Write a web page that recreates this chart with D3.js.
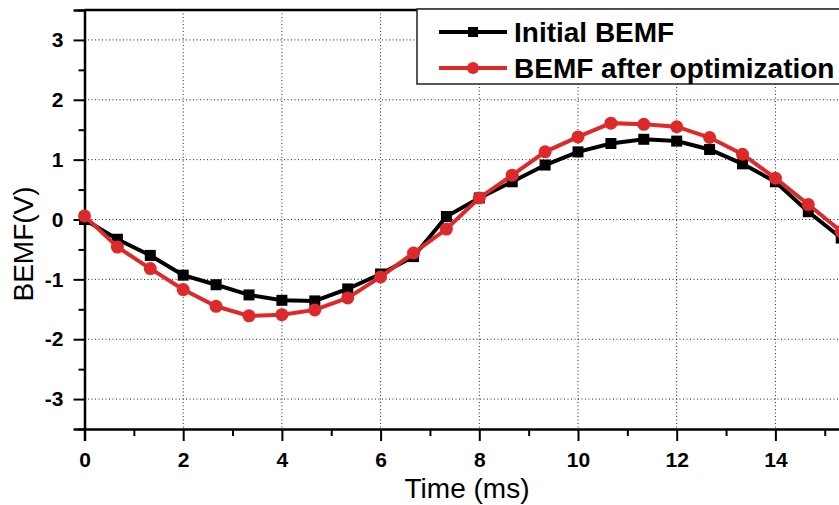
<!DOCTYPE html>
<html>
<head>
<meta charset="utf-8">
<script src="https://cdn.jsdelivr.net/npm/d3@7"></script>
<style>
  body { margin: 0; background: #fff; }
  svg { display: block; font-family: Arial, "Liberation Sans", sans-serif; }
</style>
</head>
<body>
<div id="chart"></div>
<script>
// time samples (ms), one every 2/3 ms
const times = d3.range(0, 24).map(i => i * 2 / 3);
const initialBemf = [0, -0.33, -0.6, -0.93, -1.09, -1.26, -1.35, -1.36, -1.16, -0.91, -0.62, 0.05,
  0.36, 0.63, 0.91, 1.13, 1.27, 1.34, 1.31, 1.17, 0.93, 0.63, 0.13, -0.31];
const optimizedBemf = [0.06, -0.46, -0.82, -1.17, -1.45, -1.61, -1.59, -1.51, -1.31, -0.96, -0.56, -0.16,
  0.36, 0.74, 1.13, 1.38, 1.61, 1.59, 1.55, 1.37, 1.09, 0.69, 0.25, -0.2];
const xTicks = [0, 2, 4, 6, 8, 10, 12, 14];
const yTicks = [-3, -2, -1, 0, 1, 2, 3];
const seriesNames = ["Initial BEMF", "BEMF after optimization"];

const width = 839, height = 505;
const margin = { t: 10, l: 84.5, b: 429 };
const red = '#dc2a2b';

const svg = d3.select('#chart').append('svg')
  .attr('width', width)
  .attr('height', height);

// x domain runs past the right edge (chart is cropped there)
const scaleX = d3.scaleLinear().domain([0, 16]).range([margin.l, margin.l + 16 * 49.35]);
const scaleY = d3.scaleLinear().domain([-3.5, 3.5]).range([margin.b, margin.t]);

//Grid
const grid = svg.append('g').attr('class', 'grid');
grid.selectAll('.gx')
  .data(xTicks.filter(d => d > 0))
  .enter().append('line')
  .attr('x1', d => scaleX(d)).attr('x2', d => scaleX(d))
  .attr('y1', margin.t).attr('y2', margin.b)
  .style('stroke', '#222').style('stroke-width', 1).style('stroke-dasharray', '1 2.5');
grid.selectAll('.gy')
  .data(yTicks)
  .enter().append('line')
  .attr('x1', margin.l).attr('x2', width)
  .attr('y1', d => scaleY(d)).attr('y2', d => scaleY(d))
  .style('stroke', '#222').style('stroke-width', 1).style('stroke-dasharray', '1 2.5');

//Axes
const fmt = d => String(d);
const axisX = d3.axisBottom(scaleX).tickValues(xTicks).tickSize(12).tickPadding(11).tickFormat(fmt);
const axisXMinor = d3.axisBottom(scaleX).tickValues(d3.range(1, 16, 2)).tickSize(7).tickFormat('');
const axisY = d3.axisLeft(scaleY).tickValues(yTicks).tickSize(11).tickPadding(10).tickFormat(fmt);
const axisYMinor = d3.axisLeft(scaleY).tickValues(d3.range(-3.5, 3.6, 1)).tickSize(6).tickFormat('');

svg.append('g').attr('transform', `translate(0,${margin.b})`).call(axisX);
svg.append('g').attr('transform', `translate(0,${margin.b})`).call(axisXMinor).select('.domain').remove();
svg.append('g').attr('transform', `translate(${margin.l},0)`).call(axisY);
svg.append('g').attr('transform', `translate(${margin.l},0)`).call(axisYMinor).select('.domain').remove();

svg.selectAll('.tick line').style('stroke', '#000').style('stroke-width', 2);
svg.selectAll('.domain').style('stroke', '#000').style('stroke-width', 2.5);
svg.selectAll('.tick text')
  .style('font-size', '21px').style('font-weight', 'bold').style('fill', '#000');

// top frame line
svg.append('line')
  .attr('x1', margin.l).attr('x2', width)
  .attr('y1', margin.t).attr('y2', margin.t)
  .style('stroke', '#000').style('stroke-width', 2.5);

//Axis titles
svg.append('text')
  .attr('x', 467).attr('y', 498)
  .attr('text-anchor', 'middle')
  .style('font-size', '28px')
  .text('Time (ms)');
svg.append('text')
  .attr('transform', 'translate(33,244) rotate(-90)')
  .attr('text-anchor', 'middle')
  .style('font-size', '28px')
  .text('BEMF(V)');

//Lines
const line = d3.line().x((d, i) => scaleX(times[i])).y(d => scaleY(d));
const plot = svg.append('g').attr('class', 'plot');

plot.append('path').datum(initialBemf)
  .attr('d', line)
  .style('fill', 'none').style('stroke', '#000').style('stroke-width', 4);
plot.selectAll('.sq')
  .data(initialBemf)
  .enter().append('rect')
  .attr('class', 'sq')
  .attr('x', (d, i) => scaleX(times[i]) - 5.5)
  .attr('y', d => scaleY(d) - 5.5)
  .attr('width', 11).attr('height', 11)
  .style('fill', '#000');

plot.append('path').datum(optimizedBemf)
  .attr('d', line)
  .style('fill', 'none').style('stroke', red).style('stroke-width', 4);
plot.selectAll('.dot')
  .data(optimizedBemf)
  .enter().append('circle')
  .attr('class', 'dot')
  .attr('cx', (d, i) => scaleX(times[i]))
  .attr('cy', d => scaleY(d))
  .attr('r', 6.5)
  .style('fill', red);

//Legend
const legend = svg.append('g').attr('class', 'legend');
legend.append('rect')
  .attr('x', 417).attr('y', 9).attr('width', 440).attr('height', 75)
  .style('fill', '#fff').style('stroke', '#222').style('stroke-width', 1.5);

const rows = legend.selectAll('.row')
  .data(seriesNames)
  .enter().append('g')
  .attr('transform', (d, i) => `translate(0,${i === 0 ? 32 : 68})`);
rows.append('line')
  .attr('x1', 439).attr('x2', 507)
  .style('stroke', (d, i) => i === 0 ? '#000' : red)
  .style('stroke-width', 4);
rows.filter((d, i) => i === 0).append('rect')
  .attr('x', 468).attr('y', -5).attr('width', 10).attr('height', 10)
  .style('fill', '#000');
rows.filter((d, i) => i === 1).append('circle')
  .attr('cx', 473).attr('r', 6)
  .style('fill', red);
rows.append('text')
  .attr('x', 514).attr('y', 10)
  .style('font-size', '28px').style('font-weight', 'bold')
  .text(d => d);
</script>
</body>
</html>
